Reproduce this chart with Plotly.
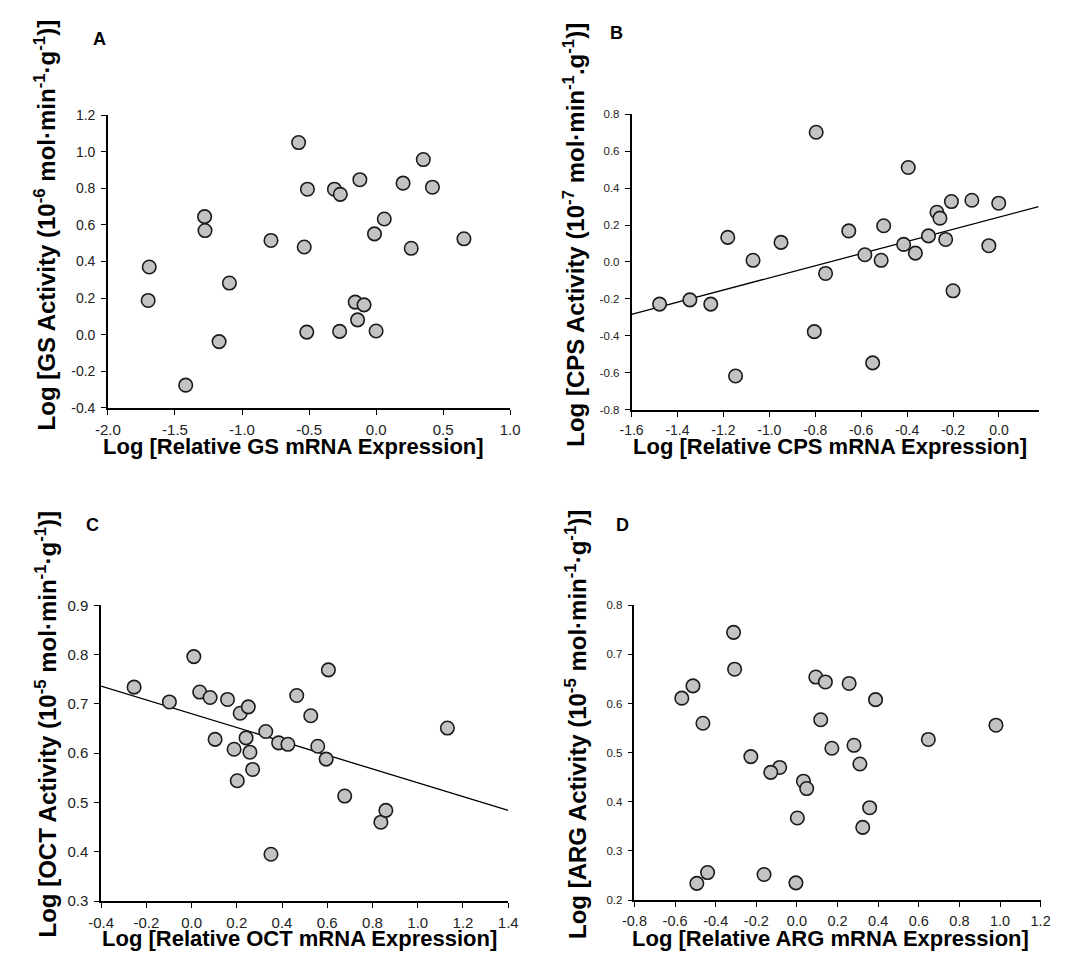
import plotly.graph_objects as go

# ---------------- data ----------------
gs_mrna = [-0.578, 0.352, -0.121, 0.201, -0.512, -0.311, -0.267, 0.42, 0.061, -0.012,
           0.655, 0.262, -0.536, -0.784, -1.279, -1.276, -1.692, -1.70, -1.094, -1.171,
           -1.42, -0.156, -0.09, -0.138, -0.517, -0.272, 0.0]
gs_act = [1.05, 0.957, 0.847, 0.828, 0.795, 0.795, 0.767, 0.806, 0.632, 0.551,
          0.524, 0.472, 0.479, 0.515, 0.645, 0.569, 0.37, 0.187, 0.282, -0.038,
          -0.276, 0.178, 0.163, 0.081, 0.014, 0.018, 0.020]

cps_mrna = [-0.796, -0.395, -0.207, -0.118, -0.001, -0.27, -0.257, -0.502, -0.654, -0.307,
            -0.232, -0.044, -0.415, -0.364, -0.584, -0.513, -0.755, -0.949, -1.071, -1.181,
            -1.478, -1.346, -1.255, -0.804, -0.55, -1.147, -0.20]
cps_act = [0.702, 0.511, 0.327, 0.334, 0.318, 0.269, 0.237, 0.196, 0.168, 0.141,
           0.122, 0.088, 0.095, 0.048, 0.039, 0.009, -0.062, 0.106, 0.009, 0.133,
           -0.228, -0.205, -0.228, -0.377, -0.546, -0.617, -0.156]
cps_fit_x = [-1.6, 0.173]
cps_fit_y = [-0.283, 0.299]

oct_mrna = [-0.254, -0.098, 0.010, 0.036, 0.082, 0.159, 0.215, 0.251, 0.104, 0.188,
            0.241, 0.258, 0.270, 0.202, 0.328, 0.385, 0.426, 0.465, 0.527, 0.558,
            0.595, 0.605, 0.677, 0.351, 0.837, 0.859, 1.131]
oct_act = [0.734, 0.704, 0.796, 0.724, 0.713, 0.709, 0.681, 0.694, 0.628, 0.608,
           0.631, 0.602, 0.567, 0.544, 0.644, 0.621, 0.618, 0.717, 0.676, 0.614,
           0.588, 0.769, 0.513, 0.395, 0.460, 0.484, 0.651]
oct_fit_x = [-0.4, 1.4]
oct_fit_y = [0.736, 0.484]

arg_mrna = [-0.312, -0.307, -0.512, -0.567, -0.463, 0.093, 0.140, 0.257, 0.387, 0.117,
            0.647, 0.980, 0.281, 0.172, 0.310, -0.227, -0.085, -0.129, 0.032, 0.048,
            0.002, 0.358, 0.324, -0.493, -0.440, -0.162, -0.005]
arg_act = [0.745, 0.670, 0.636, 0.611, 0.560, 0.654, 0.644, 0.641, 0.608, 0.567,
           0.527, 0.556, 0.515, 0.509, 0.477, 0.492, 0.470, 0.460, 0.442, 0.427,
           0.367, 0.388, 0.348, 0.234, 0.256, 0.252, 0.235]

gs_xticks = [-2.0, -1.5, -1.0, -0.5, 0.0, 0.5, 1.0]
gs_yticks = [-0.4, -0.2, 0.0, 0.2, 0.4, 0.6, 0.8, 1.0, 1.2]
cps_xticks = [-1.6, -1.4, -1.2, -1.0, -0.8, -0.6, -0.4, -0.2, 0.0]
cps_yticks = [-0.8, -0.6, -0.4, -0.2, 0.0, 0.2, 0.4, 0.6, 0.8]
oct_xticks = [-0.4, -0.2, 0.0, 0.2, 0.4, 0.6, 0.8, 1.0, 1.2, 1.4]
oct_yticks = [0.3, 0.4, 0.5, 0.6, 0.7, 0.8, 0.9]
arg_xticks = [-0.8, -0.6, -0.4, -0.2, 0.0, 0.2, 0.4, 0.6, 0.8, 1.0, 1.2]
arg_yticks = [0.2, 0.3, 0.4, 0.5, 0.6, 0.7, 0.8]

panel_letters = ["A", "B", "C", "D"]
x_titles = ["Log [Relative GS mRNA Expression]",
            "Log [Relative CPS mRNA Expression]",
            "Log [Relative OCT mRNA Expression]",
            "Log [Relative ARG mRNA Expression]"]
y_titles = ["Log [GS Activity (10<sup>-6</sup> mol·min<sup>-1</sup>·g<sup>-1</sup>)]",
            "Log [CPS Activity (10<sup>-7</sup> mol·min<sup>-1</sup>.g<sup>-1</sup>)]",
            "Log [OCT Activity (10<sup>-5</sup> mol·min<sup>-1</sup>·g<sup>-1</sup>)]",
            "Log [ARG Activity (10<sup>-5</sup> mol·min<sup>-1</sup>·g<sup>-1</sup>)]"]

# ---------------- figure ----------------
W, H = 1080, 967
FONT = "Liberation Sans, Arial, sans-serif"


def px_x(p):
    return p / W


def px_y(p):
    return 1 - p / H


def labels(vals):
    return [f"{v:.1f}" for v in vals]


panels = [
    dict(x=gs_mrna, y=gs_act, fit=None, xr=[-2.0, 1.0], yr=[-0.4, 1.2],
         xt=gs_xticks, yt=gs_yticks, box=(97, 508, 108, 406), xfs=15, yfs=14,
         letter=(88, 31), ytitle=(33, 220), xtitle=(287, 445)),
    dict(x=cps_mrna, y=cps_act, fit=(cps_fit_x, cps_fit_y), xr=[-1.6, 0.173], yr=[-0.8, 0.8],
         xt=cps_xticks, yt=cps_yticks, box=(632, 1048, 107, 408), xfs=14, yfs=11.5,
         letter=(617, 24), ytitle=(573, 230), xtitle=(835, 445)),
    dict(x=oct_mrna, y=oct_act, fit=(oct_fit_x, oct_fit_y), xr=[-0.4, 1.4], yr=[0.3, 0.9],
         xt=oct_xticks, yt=oct_yticks, box=(90, 506, 607, 908), xfs=15, yfs=15,
         letter=(81, 525), ytitle=(34, 728), xtitle=(293, 946)),
    dict(x=arg_mrna, y=arg_act, fit=None, xr=[-0.8, 1.2], yr=[0.2, 0.8],
         xt=arg_xticks, yt=arg_yticks, box=(635, 1050, 607, 907), xfs=14.5, yfs=11.5,
         letter=(623, 525), ytitle=(575, 728), xtitle=(835, 946)),
]

fig = go.Figure()
annotations = []
layout_axes = {}

for i, p in enumerate(panels):
    n = i + 1
    xa = "x" if n == 1 else f"x{n}"
    ya = "y" if n == 1 else f"y{n}"
    xkey = "xaxis" if n == 1 else f"xaxis{n}"
    ykey = "yaxis" if n == 1 else f"yaxis{n}"
    x0, x1, y0, y1 = p["box"]

    if p["fit"] is not None:
        fig.add_trace(go.Scatter(x=p["fit"][0], y=p["fit"][1], mode="lines",
                                 line=dict(color="black", width=1.3),
                                 xaxis=xa, yaxis=ya, showlegend=False, hoverinfo="skip"))
    fig.add_trace(go.Scatter(x=p["x"], y=p["y"], mode="markers",
                             marker=dict(size=13.5, color="#c3c3c3",
                                         line=dict(color="#1a1a1a", width=1.6)),
                             xaxis=xa, yaxis=ya, showlegend=False, cliponaxis=False))

    common = dict(showline=True, linecolor="black", linewidth=1.5, ticks="outside",
                  ticklen=5, tickwidth=1.3, tickcolor="black", showgrid=False,
                  zeroline=False)
    layout_axes[xkey] = dict(common, domain=[px_x(x0), px_x(x1)], range=p["xr"],
                             tickvals=p["xt"], ticktext=labels(p["xt"]), anchor=ya,
                             ticklabelstandoff=2,
                             tickfont=dict(family=FONT, size=p["xfs"], color="#222"))
    layout_axes[ykey] = dict(common, domain=[px_y(y1), px_y(y0)], range=p["yr"],
                             tickvals=p["yt"], ticktext=labels(p["yt"]), anchor=xa,
                             ticklabelstandoff=3,
                             tickfont=dict(family=FONT, size=p["yfs"], color="#222"))

    lx, ly = p["letter"]
    annotations.append(dict(text=f"<b>{panel_letters[i]}</b>", x=px_x(lx), y=px_y(ly),
                            xref="paper", yref="paper", showarrow=False,
                            xanchor="center", yanchor="middle",
                            font=dict(family=FONT, size=18, color="black")))
    tx, ty = p["ytitle"]
    annotations.append(dict(text=f"<b>{y_titles[i]}</b>", x=px_x(tx), y=px_y(ty),
                            xref="paper", yref="paper", showarrow=False, textangle=-90,
                            xanchor="center", yanchor="middle",
                            font=dict(family=FONT, size=24, color="black")))
    hx, hy = p["xtitle"]
    annotations.append(dict(text=f"<b>{x_titles[i]}</b>", x=px_x(hx), y=px_y(hy),
                            xref="paper", yref="paper", showarrow=False,
                            xanchor="center", yanchor="middle",
                            font=dict(family=FONT, size=22, color="black")))

fig.update_layout(width=W, height=H, margin=dict(l=0, r=0, t=0, b=0),
                  paper_bgcolor="white", plot_bgcolor="white",
                  annotations=annotations, **layout_axes)

fig.write_html("out.html")
